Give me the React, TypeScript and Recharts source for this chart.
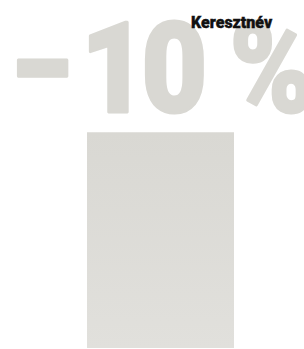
import React from 'react';
import { BarChart, Bar, XAxis, YAxis, LabelList } from 'recharts';

const categories = ['Keresztnév'];
const values = [62];
const changeLabels = ['−10%'];

const data = categories.map((name, i) => ({ name, value: values[i], change: changeLabels[i] }));

const FONT = 'Roboto, "DejaVu Sans", sans-serif';
const CHAR_GAPS = [0, 11, -4, 27];

const BigLabel = (props: any) => {
  const { x, y, index } = props;
  const chars = Array.from(String(data[index].change));
  return (
    <g>
      <text
        transform={`translate(${x - 76},${y - 20.5}) scale(0.9,1)`}
        fill="#d9d8d3"
        stroke="#d9d8d3"
        strokeWidth={3}
        strokeLinejoin="round"
        fontFamily={FONT}
        fontWeight={900}
        fontSize={126}
        letterSpacing={-2}
      >
        {chars.map((c, i) => (
          <tspan key={i} dx={CHAR_GAPS[i] || 0}>{c}</tspan>
        ))}
      </text>
      <text
        transform={`translate(${x + 104},${y - 104}) scale(0.97,1)`}
        fill="#111"
        stroke="#111"
        strokeWidth={0.4}
        fontFamily={FONT}
        fontWeight={900}
        fontSize={16.5}
      >
        {data[index].name}
      </text>
    </g>
  );
};

export default function App() {
  return (
    <div style={{ position: 'absolute', left: 0, top: 0 }}>
      <BarChart width={304} height={349} data={data} margin={{ top: 0, right: 0, bottom: 1, left: 17 }}>
        <defs>
          <linearGradient id="barGrad" x1="0" y1="0" x2="0" y2="1">
            <stop offset="0%" stopColor="#d9d8d3" />
            <stop offset="100%" stopColor="#e1e0dc" />
          </linearGradient>
        </defs>
        <XAxis dataKey="name" hide />
        <YAxis domain={[0, 100]} hide />
        <Bar dataKey="value" barSize={147} fill="url(#barGrad)" isAnimationActive={false}>
          <LabelList dataKey="change" content={BigLabel} />
        </Bar>
      </BarChart>
    </div>
  );
}
